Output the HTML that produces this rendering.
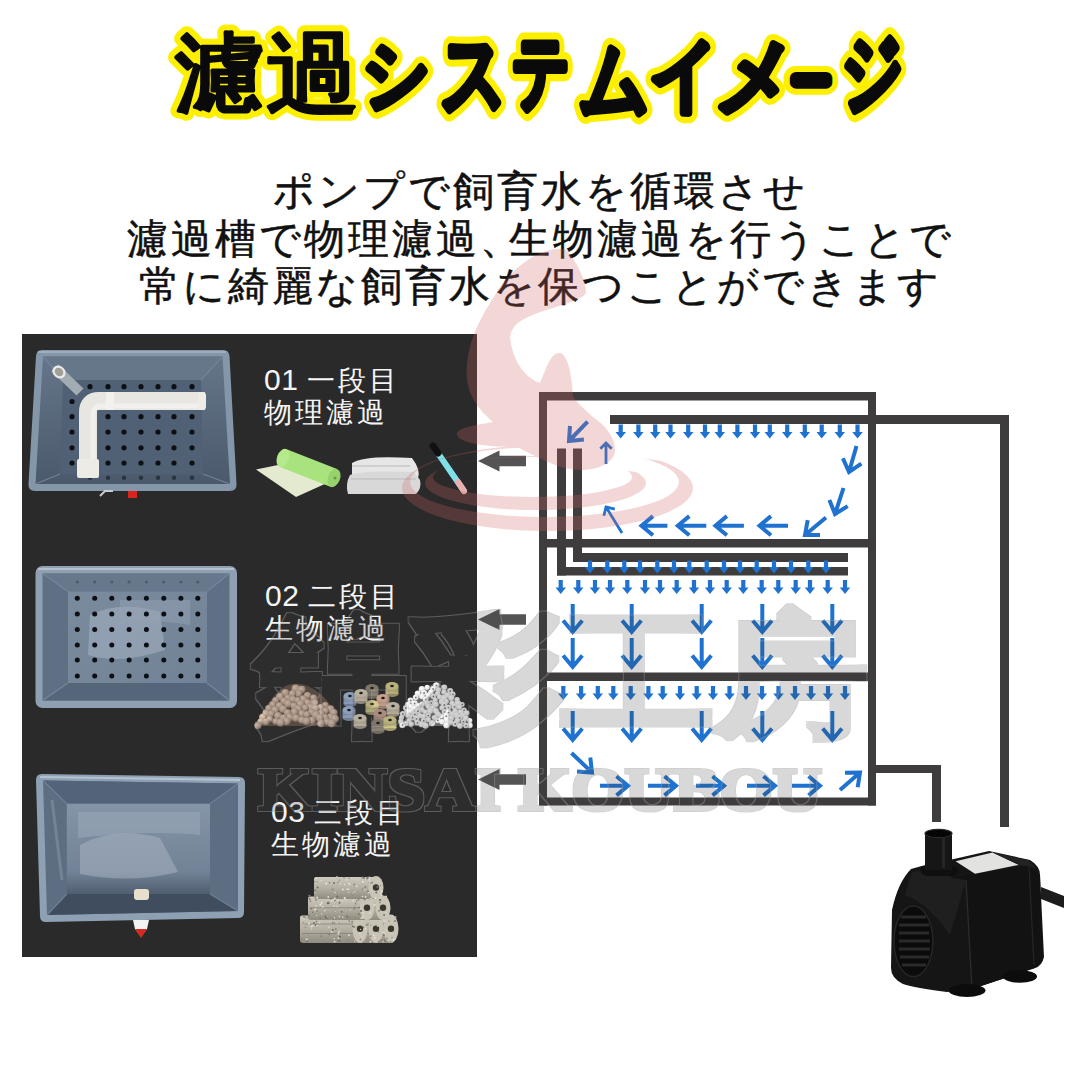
<!DOCTYPE html>
<html><head><meta charset="utf-8"><style>
html,body{margin:0;padding:0;background:#fff}
#root{position:relative;width:1080px;height:1080px;overflow:hidden;background:#fff;font-family:"Liberation Sans",sans-serif}
.ab{position:absolute;white-space:nowrap}
.title{left:0;width:1080px;text-align:center;top:22px;font-size:88px;line-height:100px;font-weight:900;letter-spacing:-15px;color:#0a0a0a}
.title.bg{color:#f8ef00;-webkit-text-stroke:14px #f8ef00}
.title.fg{-webkit-text-stroke:3px #0a0a0a}
.sub{left:0;width:1080px;text-align:center;font-size:41px;line-height:47.5px;letter-spacing:3px;color:#111;top:168px;-webkit-text-stroke:0.5px #111}
.panel{left:22px;top:334px;width:455px;height:623px;background:#2b2a2a}
.lab{color:#f4f4f4;font-size:28px;line-height:32px;letter-spacing:3px}
.lab .n{letter-spacing:0.5px;font-size:30px}
</style></head><body><div id="root">
<svg class="ab" style="left:0;top:0" width="1080" height="140" viewBox="0 0 1080 140"><g transform="translate(175.20,103.41) scale(0.9022,0.8587)"><text font-size="100" fill="#fcf000" stroke="#fcf000" stroke-width="18.17" stroke-linejoin="round" stroke-linecap="round">濾</text></g><g transform="translate(266.20,104.82) scale(0.9326,0.8977)"><text font-size="100" fill="#fcf000" stroke="#fcf000" stroke-width="17.48" stroke-linejoin="round" stroke-linecap="round">過</text></g><g transform="translate(362.14,100.79) scale(0.6687,0.7763)"><text font-size="100" fill="#fcf000" stroke="#fcf000" stroke-width="27.68" stroke-linejoin="round" stroke-linecap="round">シ</text></g><g transform="translate(440.22,105.36) scale(0.6603,0.9104)"><text font-size="100" fill="#fcf000" stroke="#fcf000" stroke-width="25.47" stroke-linejoin="round" stroke-linecap="round">ス</text></g><g transform="translate(512.00,99.69) scale(0.5714,0.8312)"><text font-size="100" fill="#fcf000" stroke="#fcf000" stroke-width="28.52" stroke-linejoin="round" stroke-linecap="round">テ</text></g><g transform="translate(578.81,108.54) scale(0.6977,0.8649)"><text font-size="100" fill="#fcf000" stroke="#fcf000" stroke-width="25.60" stroke-linejoin="round" stroke-linecap="round">ム</text></g><g transform="translate(648.71,102.23) scale(0.6986,0.8140)"><text font-size="100" fill="#fcf000" stroke="#fcf000" stroke-width="26.44" stroke-linejoin="round" stroke-linecap="round">イ</text></g><g transform="translate(713.83,105.60) scale(0.8169,0.8800)"><text font-size="100" fill="#fcf000" stroke="#fcf000" stroke-width="23.57" stroke-linejoin="round" stroke-linecap="round">メ</text></g><g transform="translate(793.28,93.90) scale(0.3580,0.3580)"><text font-size="100" fill="#fcf000" stroke="#fcf000" stroke-width="69.83" stroke-linejoin="round" stroke-linecap="round">ー</text></g><g transform="translate(841.26,102.11) scale(0.6125,0.8765)"><text font-size="100" fill="#fcf000" stroke="#fcf000" stroke-width="26.86" stroke-linejoin="round" stroke-linecap="round">ジ</text></g><g transform="translate(175.20,103.41) scale(0.9022,0.8587)"><text font-size="100" fill="#0a0a0a" stroke="#0a0a0a" stroke-width="4.54" stroke-linejoin="round" stroke-linecap="round">濾</text></g><g transform="translate(266.20,104.82) scale(0.9326,0.8977)"><text font-size="100" fill="#0a0a0a" stroke="#0a0a0a" stroke-width="4.37" stroke-linejoin="round" stroke-linecap="round">過</text></g><g transform="translate(362.14,100.79) scale(0.6687,0.7763)"><text font-size="100" fill="#0a0a0a" stroke="#0a0a0a" stroke-width="11.07" stroke-linejoin="round" stroke-linecap="round">シ</text></g><g transform="translate(440.22,105.36) scale(0.6603,0.9104)"><text font-size="100" fill="#0a0a0a" stroke="#0a0a0a" stroke-width="10.19" stroke-linejoin="round" stroke-linecap="round">ス</text></g><g transform="translate(512.00,99.69) scale(0.5714,0.8312)"><text font-size="100" fill="#0a0a0a" stroke="#0a0a0a" stroke-width="11.41" stroke-linejoin="round" stroke-linecap="round">テ</text></g><g transform="translate(578.81,108.54) scale(0.6977,0.8649)"><text font-size="100" fill="#0a0a0a" stroke="#0a0a0a" stroke-width="10.24" stroke-linejoin="round" stroke-linecap="round">ム</text></g><g transform="translate(648.71,102.23) scale(0.6986,0.8140)"><text font-size="100" fill="#0a0a0a" stroke="#0a0a0a" stroke-width="10.58" stroke-linejoin="round" stroke-linecap="round">イ</text></g><g transform="translate(713.83,105.60) scale(0.8169,0.8800)"><text font-size="100" fill="#0a0a0a" stroke="#0a0a0a" stroke-width="9.43" stroke-linejoin="round" stroke-linecap="round">メ</text></g><g transform="translate(793.28,93.90) scale(0.3580,0.3580)"><text font-size="100" fill="#0a0a0a" stroke="#0a0a0a" stroke-width="36.31" stroke-linejoin="round" stroke-linecap="round">ー</text></g><g transform="translate(841.26,102.11) scale(0.6125,0.8765)"><text font-size="100" fill="#0a0a0a" stroke="#0a0a0a" stroke-width="10.75" stroke-linejoin="round" stroke-linecap="round">ジ</text></g></svg>
<div class="ab sub">ポンプで飼育水を循環させ<br>濾過槽で物理濾過<span style="letter-spacing:-12px">、</span>生物濾過を行うことで<br>常に綺麗な飼育水を保つことができます</div>
<div class="ab panel"></div>
<svg class="ab" style="left:0;top:0" width="1080" height="1080" viewBox="0 0 1080 1080">

<defs>
<linearGradient id="t1w" x1="0" y1="0" x2="0" y2="1"><stop offset="0" stop-color="#66768a"/><stop offset="1" stop-color="#4a596c"/></linearGradient>
<linearGradient id="t3f" x1="0" y1="0" x2="0" y2="1"><stop offset="0" stop-color="#8595a8"/><stop offset="0.75" stop-color="#738397"/><stop offset="1" stop-color="#4f5e70"/></linearGradient>
<linearGradient id="t2f" x1="0" y1="0" x2="1" y2="1"><stop offset="0" stop-color="#7a8b9e"/><stop offset="1" stop-color="#728397"/></linearGradient>
</defs>
<path d="M42 350H223Q229 350 229.5 356L236.5 484Q237 491 230 491H35Q28 491 28.5 484L36 356Q36.5 350 42 350Z" fill="#8496aa"/>
<path d="M43 356.5H222.5L230 484H35.5Z" fill="url(#t1w)"/>
<path d="M43 356.5H222.5L201 380H63Z" fill="#67778a"/>
<path d="M63 380H201L203 474H60Z" fill="#516175"/>
<path d="M43 356.5L63 380M222.5 356.5L201 380M35.5 484L60 474M230 484L203 474" stroke="#72839a" stroke-width="1.2"/>
<path d="M38 352H226" stroke="#a9b6c4" stroke-width="1.5"/>
<circle cx="90.0" cy="386.7" r="2.6" fill="#0c0f14"/><circle cx="108.0" cy="386.7" r="2.6" fill="#0c0f14"/><circle cx="124.0" cy="386.7" r="2.6" fill="#0c0f14"/><circle cx="141.0" cy="386.7" r="2.6" fill="#0c0f14"/><circle cx="158.0" cy="386.7" r="2.6" fill="#0c0f14"/><circle cx="174.0" cy="386.7" r="2.6" fill="#0c0f14"/><circle cx="192.0" cy="386.7" r="2.6" fill="#0c0f14"/>
<circle cx="72.0" cy="401.5" r="2.6" fill="#0c0f14"/><circle cx="72.0" cy="416.7" r="2.6" fill="#0c0f14"/><circle cx="72.0" cy="432.0" r="2.6" fill="#0c0f14"/><circle cx="72.0" cy="447.8" r="2.6" fill="#0c0f14"/><circle cx="72.0" cy="463.0" r="2.6" fill="#0c0f14"/><circle cx="90.0" cy="401.5" r="2.6" fill="#0c0f14"/><circle cx="90.0" cy="416.7" r="2.6" fill="#0c0f14"/><circle cx="90.0" cy="432.0" r="2.6" fill="#0c0f14"/><circle cx="90.0" cy="447.8" r="2.6" fill="#0c0f14"/><circle cx="90.0" cy="463.0" r="2.6" fill="#0c0f14"/><circle cx="108.0" cy="401.5" r="2.6" fill="#0c0f14"/><circle cx="108.0" cy="416.7" r="2.6" fill="#0c0f14"/><circle cx="108.0" cy="432.0" r="2.6" fill="#0c0f14"/><circle cx="108.0" cy="447.8" r="2.6" fill="#0c0f14"/><circle cx="108.0" cy="463.0" r="2.6" fill="#0c0f14"/><circle cx="124.0" cy="401.5" r="2.6" fill="#0c0f14"/><circle cx="124.0" cy="416.7" r="2.6" fill="#0c0f14"/><circle cx="124.0" cy="432.0" r="2.6" fill="#0c0f14"/><circle cx="124.0" cy="447.8" r="2.6" fill="#0c0f14"/><circle cx="124.0" cy="463.0" r="2.6" fill="#0c0f14"/><circle cx="141.0" cy="401.5" r="2.6" fill="#0c0f14"/><circle cx="141.0" cy="416.7" r="2.6" fill="#0c0f14"/><circle cx="141.0" cy="432.0" r="2.6" fill="#0c0f14"/><circle cx="141.0" cy="447.8" r="2.6" fill="#0c0f14"/><circle cx="141.0" cy="463.0" r="2.6" fill="#0c0f14"/><circle cx="158.0" cy="401.5" r="2.6" fill="#0c0f14"/><circle cx="158.0" cy="416.7" r="2.6" fill="#0c0f14"/><circle cx="158.0" cy="432.0" r="2.6" fill="#0c0f14"/><circle cx="158.0" cy="447.8" r="2.6" fill="#0c0f14"/><circle cx="158.0" cy="463.0" r="2.6" fill="#0c0f14"/><circle cx="174.0" cy="401.5" r="2.6" fill="#0c0f14"/><circle cx="174.0" cy="416.7" r="2.6" fill="#0c0f14"/><circle cx="174.0" cy="432.0" r="2.6" fill="#0c0f14"/><circle cx="174.0" cy="447.8" r="2.6" fill="#0c0f14"/><circle cx="174.0" cy="463.0" r="2.6" fill="#0c0f14"/><circle cx="192.0" cy="401.5" r="2.6" fill="#0c0f14"/><circle cx="192.0" cy="416.7" r="2.6" fill="#0c0f14"/><circle cx="192.0" cy="432.0" r="2.6" fill="#0c0f14"/><circle cx="192.0" cy="447.8" r="2.6" fill="#0c0f14"/><circle cx="192.0" cy="463.0" r="2.6" fill="#0c0f14"/>
<circle cx="90.0" cy="477.8" r="2.2" fill="#2a3440"/><circle cx="108.0" cy="477.8" r="2.2" fill="#2a3440"/><circle cx="124.0" cy="477.8" r="2.2" fill="#2a3440"/><circle cx="141.0" cy="477.8" r="2.2" fill="#2a3440"/><circle cx="158.0" cy="477.8" r="2.2" fill="#2a3440"/><circle cx="174.0" cy="477.8" r="2.2" fill="#2a3440"/><circle cx="192.0" cy="477.8" r="2.2" fill="#2a3440"/>
<path d="M55 368L80 392" stroke="#a3abb3" stroke-width="10" stroke-linecap="butt"/>
<ellipse cx="59" cy="372" rx="7" ry="6" transform="rotate(40 59 372)" fill="#e9ebec"/><ellipse cx="59" cy="372" rx="4.6" ry="3.8" transform="rotate(40 59 372)" fill="#a39e96"/>
<path d="M88 476V412Q88 401 99 401H205" stroke="#e8e6e1" stroke-width="18" fill="none"/>
<path d="M93 476V414Q93 406 101 406H205" stroke="#f4f3ef" stroke-width="5" fill="none" opacity="0.8"/>
<rect x="77" y="459" width="22" height="19" rx="2" fill="#ecebe6"/>
<rect x="106" y="392" width="8" height="18" rx="1.5" fill="#f3f1ec"/>
<rect x="198" y="392" width="8" height="18" rx="3.5" fill="#eeece7"/>
<rect x="128" y="491" width="9" height="7" fill="#d8261f"/>
<path d="M100 496l5 -5h8" stroke="#c9cdd1" stroke-width="2" fill="none"/>

<rect x="35.5" y="566" width="201.5" height="142" rx="7" fill="#8fa0b3"/>
<path d="M38 569H234" stroke="#b3c0cd" stroke-width="2"/>
<path d="M42.5 573.5H229.5V700.5H42.5Z" fill="#607084"/>
<path d="M42.5 573.5H229.5L207 591.5H68Z" fill="#68788c"/>
<path d="M68 683H207L229.5 700.5H42.5Z" fill="#56667a"/>
<path d="M68 591.5H207V683H68Z" fill="url(#t2f)"/>
<path d="M42.5 573.5L68 591.5M229.5 573.5L207 591.5M42.5 700.5L68 683M229.5 700.5L207 683" stroke="#75869a" stroke-width="1.2"/>
<path d="M90 615Q120 600 160 612L165 650Q120 665 88 655Z" fill="#a5b3c2" opacity="0.55"/>
<path d="M120 600H190V625Q150 618 120 625Z" fill="#93a2b3" opacity="0.5"/>
<circle cx="77.3" cy="598.3" r="2.5" fill="#0c0f14"/><circle cx="77.3" cy="613.9" r="2.5" fill="#0c0f14"/><circle cx="77.3" cy="629.4" r="2.5" fill="#0c0f14"/><circle cx="77.3" cy="645.0" r="2.5" fill="#0c0f14"/><circle cx="77.3" cy="660.1" r="2.5" fill="#0c0f14"/><circle cx="77.3" cy="676.1" r="2.5" fill="#0c0f14"/><circle cx="94.7" cy="598.3" r="2.5" fill="#0c0f14"/><circle cx="94.7" cy="613.9" r="2.5" fill="#0c0f14"/><circle cx="94.7" cy="629.4" r="2.5" fill="#0c0f14"/><circle cx="94.7" cy="645.0" r="2.5" fill="#0c0f14"/><circle cx="94.7" cy="660.1" r="2.5" fill="#0c0f14"/><circle cx="94.7" cy="676.1" r="2.5" fill="#0c0f14"/><circle cx="111.8" cy="598.3" r="2.5" fill="#0c0f14"/><circle cx="111.8" cy="613.9" r="2.5" fill="#0c0f14"/><circle cx="111.8" cy="629.4" r="2.5" fill="#0c0f14"/><circle cx="111.8" cy="645.0" r="2.5" fill="#0c0f14"/><circle cx="111.8" cy="660.1" r="2.5" fill="#0c0f14"/><circle cx="111.8" cy="676.1" r="2.5" fill="#0c0f14"/><circle cx="129.1" cy="598.3" r="2.5" fill="#0c0f14"/><circle cx="129.1" cy="613.9" r="2.5" fill="#0c0f14"/><circle cx="129.1" cy="629.4" r="2.5" fill="#0c0f14"/><circle cx="129.1" cy="645.0" r="2.5" fill="#0c0f14"/><circle cx="129.1" cy="660.1" r="2.5" fill="#0c0f14"/><circle cx="129.1" cy="676.1" r="2.5" fill="#0c0f14"/><circle cx="146.4" cy="598.3" r="2.5" fill="#0c0f14"/><circle cx="146.4" cy="613.9" r="2.5" fill="#0c0f14"/><circle cx="146.4" cy="629.4" r="2.5" fill="#0c0f14"/><circle cx="146.4" cy="645.0" r="2.5" fill="#0c0f14"/><circle cx="146.4" cy="660.1" r="2.5" fill="#0c0f14"/><circle cx="146.4" cy="676.1" r="2.5" fill="#0c0f14"/><circle cx="163.8" cy="598.3" r="2.5" fill="#0c0f14"/><circle cx="163.8" cy="613.9" r="2.5" fill="#0c0f14"/><circle cx="163.8" cy="629.4" r="2.5" fill="#0c0f14"/><circle cx="163.8" cy="645.0" r="2.5" fill="#0c0f14"/><circle cx="163.8" cy="660.1" r="2.5" fill="#0c0f14"/><circle cx="163.8" cy="676.1" r="2.5" fill="#0c0f14"/><circle cx="180.9" cy="598.3" r="2.5" fill="#0c0f14"/><circle cx="180.9" cy="613.9" r="2.5" fill="#0c0f14"/><circle cx="180.9" cy="629.4" r="2.5" fill="#0c0f14"/><circle cx="180.9" cy="645.0" r="2.5" fill="#0c0f14"/><circle cx="180.9" cy="660.1" r="2.5" fill="#0c0f14"/><circle cx="180.9" cy="676.1" r="2.5" fill="#0c0f14"/><circle cx="197.8" cy="598.3" r="2.5" fill="#0c0f14"/><circle cx="197.8" cy="613.9" r="2.5" fill="#0c0f14"/><circle cx="197.8" cy="629.4" r="2.5" fill="#0c0f14"/><circle cx="197.8" cy="645.0" r="2.5" fill="#0c0f14"/><circle cx="197.8" cy="660.1" r="2.5" fill="#0c0f14"/><circle cx="197.8" cy="676.1" r="2.5" fill="#0c0f14"/>
<circle cx="77.3" cy="582.0" r="1.6" fill="#4d5b6b"/><circle cx="94.7" cy="582.0" r="1.6" fill="#4d5b6b"/><circle cx="111.8" cy="582.0" r="1.6" fill="#4d5b6b"/><circle cx="129.1" cy="582.0" r="1.6" fill="#4d5b6b"/><circle cx="146.4" cy="582.0" r="1.6" fill="#4d5b6b"/><circle cx="163.8" cy="582.0" r="1.6" fill="#4d5b6b"/><circle cx="180.9" cy="582.0" r="1.6" fill="#4d5b6b"/><circle cx="197.8" cy="582.0" r="1.6" fill="#4d5b6b"/>

<path d="M42 774L239 777Q245 777 245 783L244 912Q244 918 238 918L46 922Q40 922 40 916L36 780Q36 774 42 774Z" fill="#8ea0b4"/>
<path d="M40 777L240 780" stroke="#b5c2cf" stroke-width="2"/>
<path d="M43 780.5L238 783.5L238 911L47 915Z" fill="#5d6d82"/>
<path d="M43 780.5L238 783.5L210 803.7H66.8Z" fill="#53637a"/>
<path d="M66.8 803.7H210V894H66.8Z" fill="url(#t3f)"/>
<path d="M66.8 894H210L238 911L47 915Z" fill="#3f4d5e"/>
<path d="M43 780.5L66.8 803.7M238 783.5L210 803.7M47 915L66.8 894M238 911L210 894" stroke="#6f8095" stroke-width="1.2"/>
<path d="M78 812H200V835Q150 830 78 838Z" fill="#97a6b7" opacity="0.6"/>
<path d="M80 845Q115 826 160 838L178 872Q130 884 80 874Z" fill="#a9b6c4" opacity="0.5"/>
<path d="M52 800L62 880" stroke="#8c9bad" stroke-width="3" opacity="0.5"/>
<rect x="134" y="889" width="15" height="11" rx="3" fill="#e6e0cc"/>
<path d="M133 920H149L147 929L141 937L135 929Z" fill="#f3f3f3"/>
<path d="M135 929L141 938L147 929Z" fill="#d42a22"/>

<path d="M256 469.5L278 465L327 483L296 497Z" fill="#e4ead0"/>
<path d="M286 449L337 469L331 487L280 467Z" fill="#a8e37e"/><ellipse cx="283" cy="458" rx="6" ry="9.5" transform="rotate(21 283 458)" fill="#b4ea8c"/>
<ellipse cx="334" cy="478" rx="6" ry="9.5" transform="rotate(21 334 478)" fill="#96d26c"/><circle cx="335" cy="478" r="1.5" fill="#6a9a50"/>
<path d="M352 463Q365 455 412 458Q421 470 418 478L352 478Z" fill="#e6e6e6"/>
<path d="M350 475Q360 470 414 472L420 480Q422 488 416 494H348Q345 484 350 475Z" fill="#d8d8d8"/>
<path d="M352 466H410M351 479H416" stroke="#b9b9b9" stroke-width="1"/>
<path d="M433 446L464 491" stroke="#7fe0e8" stroke-width="6" stroke-linecap="round"/>
<path d="M433 446L438 453" stroke="#111" stroke-width="7" stroke-linecap="round"/>
<path d="M458 482L464 491" stroke="#e8b0b0" stroke-width="6" stroke-linecap="round"/>
<defs><radialGradient id="ball" cx="0.38" cy="0.35" r="0.7"><stop offset="0" stop-color="#e3cdbd"/><stop offset="0.6" stop-color="#c0a490"/><stop offset="1" stop-color="#6d5a4e"/></radialGradient><radialGradient id="wring" cx="0.4" cy="0.35" r="0.7"><stop offset="0" stop-color="#ffffff"/><stop offset="0.7" stop-color="#e4e4e4"/><stop offset="1" stop-color="#8a8a8a"/></radialGradient></defs><path d="M258 726Q266 700 285 686Q300 680 315 690Q334 702 337 726Z" fill="#5e4f46"/><circle cx="295.7" cy="688.7" r="4.1" fill="url(#ball)"/><circle cx="301.7" cy="689.8" r="4.0" fill="url(#ball)"/><circle cx="285.4" cy="692.8" r="3.9" fill="url(#ball)"/><circle cx="298.7" cy="693.8" r="3.7" fill="url(#ball)"/><circle cx="292.6" cy="693.8" r="3.7" fill="url(#ball)"/><circle cx="307.5" cy="695.6" r="3.7" fill="url(#ball)"/><circle cx="280.0" cy="697.0" r="4.0" fill="url(#ball)"/><circle cx="313.6" cy="697.9" r="3.5" fill="url(#ball)"/><circle cx="287.9" cy="698.0" r="3.6" fill="url(#ball)"/><circle cx="303.4" cy="699.3" r="4.0" fill="url(#ball)"/><circle cx="292.9" cy="699.4" r="3.6" fill="url(#ball)"/><circle cx="275.7" cy="700.4" r="3.5" fill="url(#ball)"/><circle cx="297.7" cy="700.5" r="3.4" fill="url(#ball)"/><circle cx="284.1" cy="701.2" r="3.8" fill="url(#ball)"/><circle cx="307.7" cy="702.7" r="3.7" fill="url(#ball)"/><circle cx="314.2" cy="703.1" r="4.2" fill="url(#ball)"/><circle cx="288.2" cy="703.8" r="4.1" fill="url(#ball)"/><circle cx="300.7" cy="704.3" r="4.2" fill="url(#ball)"/><circle cx="272.8" cy="704.7" r="3.6" fill="url(#ball)"/><circle cx="325.2" cy="705.5" r="3.5" fill="url(#ball)"/><circle cx="293.9" cy="705.8" r="3.5" fill="url(#ball)"/><circle cx="279.5" cy="705.8" r="3.8" fill="url(#ball)"/><circle cx="310.4" cy="707.5" r="4.0" fill="url(#ball)"/><circle cx="321.1" cy="707.9" r="3.8" fill="url(#ball)"/><circle cx="305.2" cy="708.0" r="3.6" fill="url(#ball)"/><circle cx="268.9" cy="708.5" r="3.7" fill="url(#ball)"/><circle cx="330.6" cy="709.1" r="3.9" fill="url(#ball)"/><circle cx="315.7" cy="709.2" r="3.9" fill="url(#ball)"/><circle cx="283.1" cy="709.2" r="4.0" fill="url(#ball)"/><circle cx="298.4" cy="709.2" r="4.1" fill="url(#ball)"/><circle cx="275.2" cy="710.1" r="3.9" fill="url(#ball)"/><circle cx="325.4" cy="711.1" r="3.5" fill="url(#ball)"/><circle cx="294.5" cy="712.1" r="4.1" fill="url(#ball)"/><circle cx="311.5" cy="712.6" r="3.6" fill="url(#ball)"/><circle cx="333.8" cy="712.8" r="3.9" fill="url(#ball)"/><circle cx="287.7" cy="712.9" r="3.7" fill="url(#ball)"/><circle cx="266.4" cy="713.2" r="4.0" fill="url(#ball)"/><circle cx="321.2" cy="713.4" r="3.6" fill="url(#ball)"/><circle cx="301.9" cy="713.7" r="3.6" fill="url(#ball)"/><circle cx="271.3" cy="713.8" r="3.6" fill="url(#ball)"/><circle cx="307.0" cy="714.6" r="3.5" fill="url(#ball)"/><circle cx="316.0" cy="715.1" r="4.1" fill="url(#ball)"/><circle cx="278.0" cy="715.8" r="3.9" fill="url(#ball)"/><circle cx="330.4" cy="717.0" r="3.7" fill="url(#ball)"/><circle cx="262.8" cy="717.3" r="3.7" fill="url(#ball)"/><circle cx="289.6" cy="717.6" r="4.2" fill="url(#ball)"/><circle cx="325.0" cy="717.7" r="3.8" fill="url(#ball)"/><circle cx="283.6" cy="717.8" r="3.6" fill="url(#ball)"/><circle cx="319.8" cy="718.1" r="4.0" fill="url(#ball)"/><circle cx="296.1" cy="718.1" r="3.9" fill="url(#ball)"/><circle cx="334.9" cy="718.9" r="4.2" fill="url(#ball)"/><circle cx="269.9" cy="719.0" r="3.5" fill="url(#ball)"/><circle cx="301.9" cy="720.1" r="3.8" fill="url(#ball)"/><circle cx="311.8" cy="720.6" r="4.1" fill="url(#ball)"/><circle cx="306.6" cy="721.3" r="4.1" fill="url(#ball)"/><circle cx="286.7" cy="721.4" r="4.1" fill="url(#ball)"/><circle cx="275.8" cy="721.5" r="3.4" fill="url(#ball)"/><circle cx="260.9" cy="721.8" r="3.6" fill="url(#ball)"/><circle cx="327.2" cy="721.9" r="3.5" fill="url(#ball)"/><circle cx="266.1" cy="722.0" r="3.6" fill="url(#ball)"/><circle cx="280.7" cy="722.6" r="4.2" fill="url(#ball)"/><circle cx="321.1" cy="723.3" r="3.9" fill="url(#ball)"/><circle cx="331.7" cy="723.3" r="4.1" fill="url(#ball)"/><circle cx="258.0" cy="725.6" r="3.7" fill="url(#ball)"/><rect x="365.5" y="688" width="13" height="8" fill="#8f8577" opacity="0.85"/><ellipse cx="372" cy="696" rx="6.5" ry="3" fill="#8f8577" opacity="0.7"/><ellipse cx="372" cy="688" rx="6.5" ry="4" fill="#8f8577"/><ellipse cx="372" cy="688" rx="1.8" ry="1.3" fill="#1e1a18"/><rect x="385.5" y="686" width="13" height="8" fill="#d9d08e" opacity="0.85"/><ellipse cx="392" cy="694" rx="6.5" ry="3" fill="#d9d08e" opacity="0.7"/><ellipse cx="392" cy="686" rx="6.5" ry="4" fill="#d9d08e"/><ellipse cx="392" cy="686" rx="1.8" ry="1.3" fill="#1e1a18"/><rect x="343.5" y="696" width="13" height="8" fill="#8d9fbd" opacity="0.85"/><ellipse cx="350" cy="704" rx="6.5" ry="3" fill="#8d9fbd" opacity="0.7"/><ellipse cx="350" cy="696" rx="6.5" ry="4" fill="#8d9fbd"/><ellipse cx="350" cy="696" rx="1.8" ry="1.3" fill="#1e1a18"/><rect x="354.5" y="693" width="13" height="8" fill="#d8cdb7" opacity="0.85"/><ellipse cx="361" cy="701" rx="6.5" ry="3" fill="#d8cdb7" opacity="0.7"/><ellipse cx="361" cy="693" rx="6.5" ry="4" fill="#d8cdb7"/><ellipse cx="361" cy="693" rx="1.8" ry="1.3" fill="#1e1a18"/><rect x="376.5" y="698" width="13" height="8" fill="#c99f8d" opacity="0.85"/><ellipse cx="383" cy="706" rx="6.5" ry="3" fill="#c99f8d" opacity="0.7"/><ellipse cx="383" cy="698" rx="6.5" ry="4" fill="#c99f8d"/><ellipse cx="383" cy="698" rx="1.8" ry="1.3" fill="#1e1a18"/><rect x="365.5" y="704" width="13" height="8" fill="#d3c98a" opacity="0.85"/><ellipse cx="372" cy="712" rx="6.5" ry="3" fill="#d3c98a" opacity="0.7"/><ellipse cx="372" cy="704" rx="6.5" ry="4" fill="#d3c98a"/><ellipse cx="372" cy="704" rx="1.8" ry="1.3" fill="#1e1a18"/><rect x="386.5" y="706" width="13" height="8" fill="#d8cdb7" opacity="0.85"/><ellipse cx="393" cy="714" rx="6.5" ry="3" fill="#d8cdb7" opacity="0.7"/><ellipse cx="393" cy="706" rx="6.5" ry="4" fill="#d8cdb7"/><ellipse cx="393" cy="706" rx="1.8" ry="1.3" fill="#1e1a18"/><rect x="342.5" y="710" width="13" height="8" fill="#8d9fbd" opacity="0.85"/><ellipse cx="349" cy="718" rx="6.5" ry="3" fill="#8d9fbd" opacity="0.7"/><ellipse cx="349" cy="710" rx="6.5" ry="4" fill="#8d9fbd"/><ellipse cx="349" cy="710" rx="1.8" ry="1.3" fill="#1e1a18"/><rect x="373.5" y="713" width="13" height="8" fill="#c6a090" opacity="0.85"/><ellipse cx="380" cy="721" rx="6.5" ry="3" fill="#c6a090" opacity="0.7"/><ellipse cx="380" cy="713" rx="6.5" ry="4" fill="#c6a090"/><ellipse cx="380" cy="713" rx="1.8" ry="1.3" fill="#1e1a18"/><rect x="353.5" y="718" width="13" height="8" fill="#d8cdb7" opacity="0.85"/><ellipse cx="360" cy="726" rx="6.5" ry="3" fill="#d8cdb7" opacity="0.7"/><ellipse cx="360" cy="718" rx="6.5" ry="4" fill="#d8cdb7"/><ellipse cx="360" cy="718" rx="1.8" ry="1.3" fill="#1e1a18"/><rect x="371.5" y="723" width="13" height="8" fill="#8f8577" opacity="0.85"/><ellipse cx="378" cy="731" rx="6.5" ry="3" fill="#8f8577" opacity="0.7"/><ellipse cx="378" cy="723" rx="6.5" ry="4" fill="#8f8577"/><ellipse cx="378" cy="723" rx="1.8" ry="1.3" fill="#1e1a18"/><rect x="383.5" y="720" width="13" height="8" fill="#d9d08e" opacity="0.85"/><ellipse cx="390" cy="728" rx="6.5" ry="3" fill="#d9d08e" opacity="0.7"/><ellipse cx="390" cy="720" rx="6.5" ry="4" fill="#d9d08e"/><ellipse cx="390" cy="720" rx="1.8" ry="1.3" fill="#1e1a18"/><path d="M402 726Q415 692 435 683Q455 684 470 726Z" fill="#6a6a6a"/><circle cx="436.4" cy="685.4" r="3.2" fill="url(#wring)"/><circle cx="444.3" cy="687.4" r="3.0" fill="url(#wring)"/><circle cx="427.2" cy="687.5" r="2.7" fill="url(#wring)"/><circle cx="433.1" cy="689.0" r="2.9" fill="url(#wring)"/><circle cx="421.9" cy="689.1" r="3.2" fill="url(#wring)"/><circle cx="438.4" cy="690.0" r="2.8" fill="url(#wring)"/><circle cx="450.2" cy="691.0" r="3.0" fill="url(#wring)"/><circle cx="431.0" cy="692.2" r="2.7" fill="url(#wring)"/><circle cx="444.0" cy="692.2" r="2.7" fill="url(#wring)"/><circle cx="424.1" cy="693.0" r="3.1" fill="url(#wring)"/><circle cx="417.8" cy="693.5" r="3.1" fill="url(#wring)"/><circle cx="437.7" cy="693.6" r="2.7" fill="url(#wring)"/><circle cx="453.0" cy="694.3" r="2.7" fill="url(#wring)"/><circle cx="428.4" cy="695.2" r="2.7" fill="url(#wring)"/><circle cx="447.5" cy="695.5" r="3.0" fill="url(#wring)"/><circle cx="433.4" cy="696.4" r="2.9" fill="url(#wring)"/><circle cx="421.9" cy="696.6" r="2.8" fill="url(#wring)"/><circle cx="439.7" cy="697.0" r="2.7" fill="url(#wring)"/><circle cx="415.8" cy="697.5" r="3.0" fill="url(#wring)"/><circle cx="451.3" cy="698.0" r="3.1" fill="url(#wring)"/><circle cx="444.2" cy="698.0" r="3.2" fill="url(#wring)"/><circle cx="425.8" cy="699.3" r="3.0" fill="url(#wring)"/><circle cx="457.2" cy="699.7" r="2.7" fill="url(#wring)"/><circle cx="435.3" cy="700.2" r="2.6" fill="url(#wring)"/><circle cx="410.6" cy="700.5" r="3.1" fill="url(#wring)"/><circle cx="446.1" cy="701.6" r="2.9" fill="url(#wring)"/><circle cx="441.9" cy="701.7" r="3.1" fill="url(#wring)"/><circle cx="431.3" cy="702.9" r="2.6" fill="url(#wring)"/><circle cx="426.2" cy="703.0" r="3.2" fill="url(#wring)"/><circle cx="452.2" cy="703.3" r="2.8" fill="url(#wring)"/><circle cx="414.6" cy="703.5" r="3.2" fill="url(#wring)"/><circle cx="458.0" cy="703.5" r="3.2" fill="url(#wring)"/><circle cx="422.3" cy="704.5" r="2.9" fill="url(#wring)"/><circle cx="462.2" cy="704.5" r="2.6" fill="url(#wring)"/><circle cx="435.7" cy="704.6" r="3.2" fill="url(#wring)"/><circle cx="407.8" cy="704.7" r="2.9" fill="url(#wring)"/><circle cx="444.3" cy="704.9" r="3.2" fill="url(#wring)"/><circle cx="418.6" cy="705.7" r="2.8" fill="url(#wring)"/><circle cx="428.2" cy="706.6" r="2.7" fill="url(#wring)"/><circle cx="454.5" cy="706.7" r="3.2" fill="url(#wring)"/><circle cx="410.9" cy="706.9" r="2.9" fill="url(#wring)"/><circle cx="459.5" cy="707.2" r="2.7" fill="url(#wring)"/><circle cx="448.5" cy="707.7" r="2.9" fill="url(#wring)"/><circle cx="432.8" cy="707.9" r="3.0" fill="url(#wring)"/><circle cx="442.0" cy="707.9" r="2.6" fill="url(#wring)"/><circle cx="405.9" cy="708.0" r="3.0" fill="url(#wring)"/><circle cx="414.8" cy="708.6" r="2.9" fill="url(#wring)"/><circle cx="421.9" cy="710.0" r="3.0" fill="url(#wring)"/><circle cx="464.1" cy="710.1" r="2.7" fill="url(#wring)"/><circle cx="435.9" cy="711.0" r="3.1" fill="url(#wring)"/><circle cx="430.0" cy="711.2" r="3.2" fill="url(#wring)"/><circle cx="418.0" cy="711.2" r="3.2" fill="url(#wring)"/><circle cx="455.2" cy="711.3" r="2.8" fill="url(#wring)"/><circle cx="407.4" cy="711.5" r="3.1" fill="url(#wring)"/><circle cx="444.6" cy="711.8" r="2.9" fill="url(#wring)"/><circle cx="411.7" cy="712.1" r="3.1" fill="url(#wring)"/><circle cx="425.4" cy="712.1" r="2.6" fill="url(#wring)"/><circle cx="448.5" cy="712.6" r="3.2" fill="url(#wring)"/><circle cx="460.6" cy="712.7" r="3.3" fill="url(#wring)"/><circle cx="466.6" cy="713.1" r="2.9" fill="url(#wring)"/><circle cx="402.8" cy="714.0" r="3.0" fill="url(#wring)"/><circle cx="452.7" cy="714.2" r="3.0" fill="url(#wring)"/><circle cx="437.9" cy="714.3" r="3.0" fill="url(#wring)"/><circle cx="414.8" cy="714.4" r="2.6" fill="url(#wring)"/><circle cx="456.7" cy="715.3" r="3.3" fill="url(#wring)"/><circle cx="408.1" cy="715.5" r="2.8" fill="url(#wring)"/><circle cx="428.3" cy="715.6" r="2.7" fill="url(#wring)"/><circle cx="463.1" cy="715.7" r="2.7" fill="url(#wring)"/><circle cx="419.8" cy="715.9" r="2.8" fill="url(#wring)"/><circle cx="446.3" cy="716.2" r="3.2" fill="url(#wring)"/><circle cx="441.4" cy="716.2" r="2.6" fill="url(#wring)"/><circle cx="423.5" cy="716.5" r="2.7" fill="url(#wring)"/><circle cx="412.6" cy="717.5" r="3.1" fill="url(#wring)"/><circle cx="434.4" cy="717.6" r="2.7" fill="url(#wring)"/><circle cx="401.5" cy="717.7" r="2.6" fill="url(#wring)"/><circle cx="459.7" cy="717.8" r="3.0" fill="url(#wring)"/><circle cx="465.8" cy="718.3" r="3.0" fill="url(#wring)"/><circle cx="451.3" cy="718.3" r="3.0" fill="url(#wring)"/><circle cx="416.4" cy="718.8" r="3.1" fill="url(#wring)"/><circle cx="428.3" cy="719.8" r="2.7" fill="url(#wring)"/><circle cx="446.6" cy="719.9" r="3.2" fill="url(#wring)"/><circle cx="437.8" cy="720.3" r="3.1" fill="url(#wring)"/><circle cx="469.8" cy="720.7" r="2.6" fill="url(#wring)"/><circle cx="409.1" cy="720.7" r="2.7" fill="url(#wring)"/><circle cx="423.7" cy="720.7" r="2.9" fill="url(#wring)"/><circle cx="457.3" cy="720.8" r="3.0" fill="url(#wring)"/><circle cx="400.9" cy="721.5" r="2.8" fill="url(#wring)"/><circle cx="463.4" cy="721.6" r="2.7" fill="url(#wring)"/><circle cx="442.1" cy="721.8" r="2.9" fill="url(#wring)"/><circle cx="450.7" cy="722.4" r="2.7" fill="url(#wring)"/><circle cx="417.4" cy="722.8" r="3.0" fill="url(#wring)"/><circle cx="432.2" cy="723.2" r="3.2" fill="url(#wring)"/><circle cx="406.2" cy="723.5" r="2.7" fill="url(#wring)"/><circle cx="455.2" cy="723.9" r="3.0" fill="url(#wring)"/><circle cx="421.5" cy="724.3" r="3.1" fill="url(#wring)"/><circle cx="411.3" cy="724.3" r="2.7" fill="url(#wring)"/><circle cx="402.5" cy="725.0" r="3.2" fill="url(#wring)"/><circle cx="446.6" cy="725.2" r="3.3" fill="url(#wring)"/><circle cx="469.9" cy="725.4" r="2.9" fill="url(#wring)"/><circle cx="466.0" cy="725.6" r="2.9" fill="url(#wring)"/><circle cx="425.5" cy="725.6" r="3.2" fill="url(#wring)"/><circle cx="460.0" cy="725.9" r="3.0" fill="url(#wring)"/><circle cx="436.4" cy="685.4" r="0.9" fill="#777"/><circle cx="433.1" cy="689.0" r="0.9" fill="#777"/><circle cx="450.2" cy="691.0" r="0.9" fill="#777"/><circle cx="424.1" cy="693.0" r="0.9" fill="#777"/><circle cx="453.0" cy="694.3" r="0.9" fill="#777"/><circle cx="433.4" cy="696.4" r="0.9" fill="#777"/><circle cx="415.8" cy="697.5" r="0.9" fill="#777"/><circle cx="425.8" cy="699.3" r="0.9" fill="#777"/><circle cx="410.6" cy="700.5" r="0.9" fill="#777"/><circle cx="431.3" cy="702.9" r="0.9" fill="#777"/><circle cx="414.6" cy="703.5" r="0.9" fill="#777"/><circle cx="462.2" cy="704.5" r="0.9" fill="#777"/><circle cx="444.3" cy="704.9" r="0.9" fill="#777"/><circle cx="454.5" cy="706.7" r="0.9" fill="#777"/><circle cx="448.5" cy="707.7" r="0.9" fill="#777"/><circle cx="405.9" cy="708.0" r="0.9" fill="#777"/><circle cx="464.1" cy="710.1" r="0.9" fill="#777"/><circle cx="418.0" cy="711.2" r="0.9" fill="#777"/><circle cx="444.6" cy="711.8" r="0.9" fill="#777"/><circle cx="448.5" cy="712.6" r="0.9" fill="#777"/><circle cx="402.8" cy="714.0" r="0.9" fill="#777"/><circle cx="414.8" cy="714.4" r="0.9" fill="#777"/><circle cx="428.3" cy="715.6" r="0.9" fill="#777"/><circle cx="446.3" cy="716.2" r="0.9" fill="#777"/><circle cx="412.6" cy="717.5" r="0.9" fill="#777"/><circle cx="459.7" cy="717.8" r="0.9" fill="#777"/><circle cx="416.4" cy="718.8" r="0.9" fill="#777"/><circle cx="437.8" cy="720.3" r="0.9" fill="#777"/><circle cx="423.7" cy="720.7" r="0.9" fill="#777"/><circle cx="463.4" cy="721.6" r="0.9" fill="#777"/><circle cx="417.4" cy="722.8" r="0.9" fill="#777"/><circle cx="455.2" cy="723.9" r="0.9" fill="#777"/><circle cx="402.5" cy="725.0" r="0.9" fill="#777"/><circle cx="466.0" cy="725.6" r="0.9" fill="#777"/><defs><linearGradient id="brk" x1="0" y1="0" x2="0" y2="1"><stop offset="0" stop-color="#cfcabd"/><stop offset="0.5" stop-color="#b5b0a3"/><stop offset="1" stop-color="#8f8b7f"/></linearGradient></defs><path d="M302 915.5H391V943H303Q300 943 300 940V917.5Q300 915.5 302 915.5Z" fill="url(#brk)"/><path d="M302 924.0H387" stroke="#77736a" stroke-width="1" opacity="0.6"/><path d="M302 933.5H387" stroke="#77736a" stroke-width="1" opacity="0.6"/><ellipse cx="360" cy="928.8" rx="7.5" ry="14.2" fill="#c9c4b6"/><circle cx="360" cy="928.8" r="3.2" fill="#3b372f"/><ellipse cx="376" cy="928.8" rx="7.5" ry="14.2" fill="#c9c4b6"/><circle cx="376" cy="928.8" r="3.2" fill="#3b372f"/><ellipse cx="391" cy="928.8" rx="7.5" ry="14.2" fill="#c9c4b6"/><circle cx="391" cy="928.8" r="3.2" fill="#3b372f"/><path d="M310 896.5H383V920H311Q308 920 308 917V898.5Q308 896.5 310 896.5Z" fill="url(#brk)"/><path d="M310 907.8H379" stroke="#77736a" stroke-width="1" opacity="0.6"/><ellipse cx="367" cy="907.8" rx="7.5" ry="12.2" fill="#c9c4b6"/><circle cx="367" cy="907.8" r="3.2" fill="#3b372f"/><ellipse cx="383" cy="907.8" rx="7.5" ry="12.2" fill="#c9c4b6"/><circle cx="383" cy="907.8" r="3.2" fill="#3b372f"/><path d="M316 877H376V899H317Q314 899 314 896V879Q314 877 316 877Z" fill="url(#brk)"/><ellipse cx="376" cy="887.5" rx="7.5" ry="11.5" fill="#c9c4b6"/><circle cx="376" cy="887.5" r="3.2" fill="#3b372f"/><circle cx="338.6" cy="938.2" r="1.0" fill="#dcd8cc"/><circle cx="339.1" cy="931.5" r="1.0" fill="#dcd8cc"/><circle cx="378.4" cy="932.1" r="0.6" fill="#6f6b60"/><circle cx="392.0" cy="937.7" r="0.7" fill="#8a867a"/><circle cx="364.0" cy="877.8" r="0.7" fill="#6f6b60"/><circle cx="349.0" cy="878.4" r="0.7" fill="#8a867a"/><circle cx="374.8" cy="937.9" r="0.9" fill="#e8e4d8"/><circle cx="304.3" cy="918.7" r="0.7" fill="#dcd8cc"/><circle cx="360.7" cy="929.4" r="0.6" fill="#e8e4d8"/><circle cx="324.8" cy="910.8" r="0.8" fill="#e8e4d8"/><circle cx="328.3" cy="896.9" r="0.9" fill="#e8e4d8"/><circle cx="306.7" cy="939.3" r="1.1" fill="#dcd8cc"/><circle cx="309.0" cy="915.4" r="1.1" fill="#8a867a"/><circle cx="328.9" cy="903.4" r="0.7" fill="#6f6b60"/><circle cx="370.9" cy="925.1" r="0.7" fill="#8a867a"/><circle cx="358.9" cy="914.1" r="0.9" fill="#6f6b60"/><circle cx="353.1" cy="900.8" r="1.0" fill="#dcd8cc"/><circle cx="359.2" cy="907.5" r="0.8" fill="#6f6b60"/><circle cx="332.7" cy="889.3" r="0.9" fill="#8a867a"/><circle cx="353.9" cy="908.9" r="0.7" fill="#6f6b60"/><circle cx="329.1" cy="927.2" r="0.7" fill="#e8e4d8"/><circle cx="358.6" cy="899.6" r="0.9" fill="#8a867a"/><circle cx="380.3" cy="900.0" r="1.0" fill="#6f6b60"/><circle cx="395.0" cy="921.0" r="1.1" fill="#8a867a"/><circle cx="333.0" cy="899.9" r="0.9" fill="#dcd8cc"/><circle cx="379.0" cy="910.7" r="1.0" fill="#8a867a"/><circle cx="326.5" cy="918.0" r="0.9" fill="#6f6b60"/><circle cx="340.2" cy="883.7" r="0.8" fill="#e8e4d8"/><circle cx="348.3" cy="939.6" r="0.9" fill="#8a867a"/><circle cx="381.7" cy="895.2" r="0.9" fill="#e8e4d8"/><circle cx="337.1" cy="906.4" r="0.8" fill="#dcd8cc"/><circle cx="328.8" cy="902.4" r="0.9" fill="#8a867a"/><circle cx="362.6" cy="877.4" r="1.0" fill="#8a867a"/><circle cx="337.2" cy="896.5" r="0.9" fill="#6f6b60"/><circle cx="342.4" cy="901.5" r="0.7" fill="#dcd8cc"/><circle cx="331.8" cy="931.8" r="1.0" fill="#dcd8cc"/><circle cx="320.4" cy="904.7" r="1.1" fill="#e8e4d8"/><circle cx="386.1" cy="896.5" r="0.9" fill="#dcd8cc"/><circle cx="352.2" cy="941.9" r="0.9" fill="#8a867a"/><circle cx="338.0" cy="900.3" r="0.9" fill="#dcd8cc"/><circle cx="344.0" cy="877.7" r="0.6" fill="#6f6b60"/><circle cx="310.4" cy="901.3" r="0.8" fill="#6f6b60"/><circle cx="384.6" cy="939.7" r="0.8" fill="#8a867a"/><circle cx="373.9" cy="935.4" r="0.9" fill="#e8e4d8"/><circle cx="317.2" cy="897.7" r="1.1" fill="#dcd8cc"/><circle cx="349.7" cy="884.2" r="1.0" fill="#dcd8cc"/><circle cx="379.0" cy="941.4" r="1.0" fill="#8a867a"/><circle cx="361.0" cy="911.1" r="1.0" fill="#6f6b60"/><circle cx="349.0" cy="889.2" r="0.7" fill="#e8e4d8"/><circle cx="334.6" cy="941.6" r="0.9" fill="#e8e4d8"/><circle cx="366.7" cy="877.7" r="0.6" fill="#e8e4d8"/><circle cx="388.1" cy="902.8" r="0.6" fill="#e8e4d8"/><circle cx="364.5" cy="889.8" r="0.8" fill="#dcd8cc"/><circle cx="383.8" cy="935.2" r="0.9" fill="#6f6b60"/><circle cx="355.6" cy="903.7" r="0.7" fill="#6f6b60"/><circle cx="350.3" cy="910.1" r="0.6" fill="#e8e4d8"/><circle cx="317.2" cy="911.0" r="1.0" fill="#8a867a"/><circle cx="377.6" cy="881.0" r="0.6" fill="#dcd8cc"/><circle cx="314.7" cy="892.5" r="0.7" fill="#e8e4d8"/><circle cx="326.3" cy="883.5" r="1.1" fill="#e8e4d8"/><circle cx="334.1" cy="906.2" r="0.8" fill="#e8e4d8"/><circle cx="321.9" cy="902.7" r="1.0" fill="#e8e4d8"/><circle cx="342.8" cy="917.3" r="0.7" fill="#e8e4d8"/><circle cx="316.1" cy="915.2" r="0.7" fill="#e8e4d8"/><circle cx="386.4" cy="930.0" r="0.8" fill="#dcd8cc"/><circle cx="338.0" cy="923.7" r="0.7" fill="#dcd8cc"/><circle cx="338.9" cy="923.3" r="0.6" fill="#6f6b60"/><circle cx="337.0" cy="877.5" r="1.0" fill="#8a867a"/><circle cx="354.3" cy="884.5" r="0.9" fill="#8a867a"/><circle cx="332.9" cy="919.3" r="1.1" fill="#8a867a"/><circle cx="379.5" cy="899.8" r="0.7" fill="#6f6b60"/><circle cx="345.4" cy="899.4" r="0.8" fill="#dcd8cc"/><circle cx="364.1" cy="899.2" r="0.7" fill="#6f6b60"/><circle cx="380.3" cy="885.3" r="0.8" fill="#6f6b60"/><circle cx="316.1" cy="899.9" r="1.0" fill="#8a867a"/><circle cx="360.8" cy="914.7" r="0.7" fill="#8a867a"/><circle cx="349.0" cy="891.8" r="0.8" fill="#6f6b60"/><circle cx="390.5" cy="941.9" r="0.9" fill="#8a867a"/><circle cx="356.8" cy="900.9" r="0.7" fill="#6f6b60"/><circle cx="312.9" cy="925.8" r="0.9" fill="#e8e4d8"/><circle cx="352.5" cy="894.6" r="1.0" fill="#8a867a"/><circle cx="303.7" cy="923.7" r="0.7" fill="#e8e4d8"/><circle cx="338.0" cy="882.6" r="0.7" fill="#6f6b60"/><circle cx="331.5" cy="920.1" r="0.7" fill="#dcd8cc"/><circle cx="377.5" cy="926.3" r="0.7" fill="#dcd8cc"/><circle cx="309.4" cy="895.8" r="1.0" fill="#8a867a"/><circle cx="327.8" cy="903.2" r="1.1" fill="#6f6b60"/><circle cx="335.8" cy="929.0" r="0.9" fill="#8a867a"/><circle cx="303.4" cy="922.7" r="0.8" fill="#8a867a"/><circle cx="334.5" cy="917.9" r="0.7" fill="#e8e4d8"/><circle cx="326.7" cy="916.6" r="0.7" fill="#e8e4d8"/><circle cx="339.4" cy="916.6" r="0.8" fill="#dcd8cc"/><circle cx="315.8" cy="925.0" r="0.9" fill="#6f6b60"/><circle cx="354.6" cy="891.8" r="0.8" fill="#dcd8cc"/><circle cx="388.9" cy="920.6" r="0.9" fill="#e8e4d8"/><circle cx="311.6" cy="926.6" r="0.9" fill="#e8e4d8"/><circle cx="384.1" cy="915.0" r="0.9" fill="#6f6b60"/><circle cx="365.7" cy="879.4" r="0.8" fill="#dcd8cc"/><circle cx="372.2" cy="882.6" r="0.9" fill="#8a867a"/><circle cx="395.8" cy="917.0" r="0.7" fill="#e8e4d8"/><circle cx="334.2" cy="938.7" r="0.8" fill="#dcd8cc"/><circle cx="366.7" cy="925.0" r="1.0" fill="#8a867a"/><circle cx="349.3" cy="921.0" r="0.7" fill="#6f6b60"/><circle cx="347.5" cy="889.3" r="1.1" fill="#dcd8cc"/><circle cx="317.6" cy="887.6" r="1.0" fill="#6f6b60"/><circle cx="352.7" cy="893.2" r="0.6" fill="#dcd8cc"/><circle cx="334.0" cy="883.0" r="0.9" fill="#6f6b60"/><circle cx="314.0" cy="923.0" r="0.9" fill="#6f6b60"/><circle cx="368.0" cy="877.4" r="0.9" fill="#6f6b60"/><circle cx="329.4" cy="934.5" r="0.7" fill="#6f6b60"/><circle cx="332.7" cy="930.0" r="0.9" fill="#6f6b60"/><circle cx="365.3" cy="887.1" r="1.1" fill="#8a867a"/><circle cx="380.0" cy="884.4" r="0.7" fill="#dcd8cc"/><circle cx="347.2" cy="879.8" r="1.0" fill="#dcd8cc"/><circle cx="319.7" cy="922.6" r="0.8" fill="#e8e4d8"/><circle cx="316.3" cy="905.9" r="0.9" fill="#dcd8cc"/><circle cx="317.0" cy="881.7" r="0.6" fill="#8a867a"/><circle cx="309.0" cy="923.6" r="1.1" fill="#dcd8cc"/><circle cx="311.3" cy="908.8" r="0.8" fill="#6f6b60"/><circle cx="375.5" cy="897.9" r="0.8" fill="#e8e4d8"/><circle cx="362.2" cy="917.8" r="1.1" fill="#dcd8cc"/><circle cx="363.0" cy="882.1" r="1.0" fill="#e8e4d8"/><circle cx="374.6" cy="931.6" r="0.7" fill="#6f6b60"/><circle cx="386.1" cy="921.3" r="0.7" fill="#dcd8cc"/><circle cx="371.5" cy="898.2" r="0.7" fill="#dcd8cc"/><circle cx="331.4" cy="901.0" r="0.9" fill="#dcd8cc"/><circle cx="380.6" cy="893.5" r="0.6" fill="#e8e4d8"/><circle cx="354.9" cy="917.8" r="1.0" fill="#8a867a"/><circle cx="387.0" cy="938.4" r="0.8" fill="#8a867a"/><circle cx="370.4" cy="941.7" r="0.9" fill="#e8e4d8"/><circle cx="314.5" cy="891.8" r="0.7" fill="#8a867a"/><circle cx="342.8" cy="889.4" r="1.0" fill="#e8e4d8"/><circle cx="304.0" cy="916.7" r="1.0" fill="#8a867a"/><circle cx="314.6" cy="881.7" r="0.6" fill="#8a867a"/><circle cx="301.8" cy="939.1" r="0.7" fill="#6f6b60"/><circle cx="337.0" cy="877.3" r="1.0" fill="#dcd8cc"/><circle cx="354.9" cy="907.5" r="0.9" fill="#8a867a"/><circle cx="341.7" cy="911.8" r="0.9" fill="#6f6b60"/><circle cx="393.6" cy="939.5" r="0.9" fill="#e8e4d8"/><circle cx="369.7" cy="898.6" r="0.9" fill="#8a867a"/><circle cx="362.5" cy="896.5" r="0.8" fill="#e8e4d8"/><circle cx="381.6" cy="891.5" r="1.0" fill="#e8e4d8"/><circle cx="315.0" cy="914.6" r="0.9" fill="#8a867a"/><circle cx="335.2" cy="892.6" r="0.8" fill="#dcd8cc"/><circle cx="385.5" cy="912.6" r="0.7" fill="#dcd8cc"/><circle cx="362.7" cy="889.2" r="0.9" fill="#8a867a"/><circle cx="322.6" cy="906.8" r="0.9" fill="#e8e4d8"/><circle cx="370.9" cy="936.1" r="0.9" fill="#8a867a"/><circle cx="365.6" cy="929.0" r="0.7" fill="#e8e4d8"/><circle cx="360.5" cy="939.4" r="0.9" fill="#8a867a"/><circle cx="379.9" cy="902.5" r="0.7" fill="#6f6b60"/><circle cx="354.5" cy="927.4" r="0.7" fill="#e8e4d8"/><circle cx="339.4" cy="880.1" r="0.6" fill="#6f6b60"/><circle cx="344.7" cy="884.8" r="0.7" fill="#e8e4d8"/><circle cx="360.0" cy="933.7" r="0.9" fill="#dcd8cc"/><circle cx="317.0" cy="925.5" r="0.8" fill="#e8e4d8"/><circle cx="379.4" cy="885.0" r="0.8" fill="#dcd8cc"/><circle cx="369.6" cy="879.8" r="0.9" fill="#e8e4d8"/><circle cx="334.8" cy="898.3" r="0.9" fill="#e8e4d8"/><circle cx="388.9" cy="920.9" r="0.7" fill="#6f6b60"/><circle cx="366.9" cy="878.4" r="1.1" fill="#8a867a"/><circle cx="311.5" cy="929.0" r="0.7" fill="#dcd8cc"/><circle cx="384.0" cy="920.5" r="1.0" fill="#dcd8cc"/><circle cx="352.2" cy="921.8" r="1.0" fill="#8a867a"/><circle cx="315.3" cy="909.6" r="1.0" fill="#e8e4d8"/><circle cx="308.1" cy="917.3" r="0.9" fill="#8a867a"/><circle cx="381.1" cy="939.9" r="0.9" fill="#8a867a"/><circle cx="338.4" cy="933.7" r="0.9" fill="#e8e4d8"/><circle cx="335.3" cy="911.3" r="0.8" fill="#6f6b60"/><circle cx="357.0" cy="879.8" r="0.7" fill="#dcd8cc"/><circle cx="370.1" cy="898.5" r="0.8" fill="#dcd8cc"/><circle cx="330.9" cy="898.8" r="0.8" fill="#6f6b60"/><circle cx="314.9" cy="920.6" r="0.7" fill="#dcd8cc"/><circle cx="307.0" cy="941.4" r="0.8" fill="#6f6b60"/><circle cx="354.3" cy="927.1" r="1.0" fill="#8a867a"/><circle cx="361.1" cy="918.3" r="0.8" fill="#dcd8cc"/><circle cx="376.3" cy="892.5" r="1.0" fill="#6f6b60"/><circle cx="365.7" cy="896.8" r="1.0" fill="#dcd8cc"/><circle cx="349.3" cy="918.3" r="0.8" fill="#8a867a"/><circle cx="332.8" cy="922.8" r="0.9" fill="#8a867a"/><circle cx="348.9" cy="935.1" r="1.0" fill="#dcd8cc"/><circle cx="315.3" cy="890.3" r="1.0" fill="#8a867a"/><circle cx="339.5" cy="902.7" r="1.0" fill="#6f6b60"/><circle cx="356.7" cy="886.3" r="1.0" fill="#dcd8cc"/><circle cx="370.0" cy="912.8" r="1.1" fill="#dcd8cc"/><circle cx="388.9" cy="915.0" r="0.8" fill="#dcd8cc"/><circle cx="374.6" cy="904.8" r="1.0" fill="#e8e4d8"/><circle cx="380.7" cy="897.8" r="0.7" fill="#dcd8cc"/><circle cx="352.9" cy="926.3" r="0.9" fill="#6f6b60"/><circle cx="367.9" cy="891.2" r="0.8" fill="#6f6b60"/><circle cx="348.7" cy="883.5" r="0.7" fill="#e8e4d8"/><circle cx="392.5" cy="916.1" r="0.6" fill="#dcd8cc"/><circle cx="369.3" cy="877.3" r="0.7" fill="#e8e4d8"/><circle cx="361.8" cy="937.0" r="0.7" fill="#dcd8cc"/><circle cx="347.2" cy="916.6" r="1.0" fill="#6f6b60"/><circle cx="305.3" cy="917.7" r="0.8" fill="#8a867a"/><circle cx="390.3" cy="933.8" r="0.6" fill="#dcd8cc"/><circle cx="354.6" cy="941.2" r="0.6" fill="#dcd8cc"/><circle cx="315.9" cy="878.2" r="0.7" fill="#e8e4d8"/><circle cx="335.0" cy="900.5" r="0.8" fill="#6f6b60"/><circle cx="363.4" cy="916.1" r="0.8" fill="#dcd8cc"/><circle cx="378.3" cy="908.0" r="0.6" fill="#dcd8cc"/><circle cx="362.9" cy="912.7" r="1.0" fill="#dcd8cc"/><circle cx="335.3" cy="911.4" r="0.7" fill="#dcd8cc"/><circle cx="363.3" cy="927.3" r="0.8" fill="#6f6b60"/><circle cx="339.1" cy="940.6" r="1.1" fill="#6f6b60"/><circle cx="312.6" cy="912.3" r="0.7" fill="#6f6b60"/><circle cx="325.6" cy="916.4" r="1.0" fill="#6f6b60"/><circle cx="383.7" cy="932.6" r="1.0" fill="#e8e4d8"/><circle cx="334.3" cy="923.1" r="0.8" fill="#8a867a"/><circle cx="321.2" cy="936.3" r="1.1" fill="#8a867a"/><circle cx="344.7" cy="898.0" r="1.1" fill="#e8e4d8"/><circle cx="363.7" cy="878.0" r="1.0" fill="#8a867a"/><circle cx="365.1" cy="899.8" r="0.7" fill="#8a867a"/><circle cx="339.9" cy="936.7" r="1.1" fill="#6f6b60"/><circle cx="368.4" cy="892.7" r="0.8" fill="#dcd8cc"/><circle cx="373.1" cy="918.8" r="0.7" fill="#8a867a"/><circle cx="321.6" cy="914.0" r="0.7" fill="#dcd8cc"/><circle cx="329.5" cy="882.7" r="0.6" fill="#6f6b60"/><circle cx="316.4" cy="921.4" r="0.9" fill="#8a867a"/><circle cx="321.1" cy="880.4" r="1.0" fill="#dcd8cc"/><circle cx="305.4" cy="927.3" r="0.8" fill="#8a867a"/><circle cx="383.1" cy="941.7" r="0.7" fill="#e8e4d8"/><circle cx="377.5" cy="886.9" r="1.1" fill="#6f6b60"/><circle cx="370.9" cy="883.3" r="0.7" fill="#8a867a"/><circle cx="309.6" cy="899.1" r="1.1" fill="#8a867a"/><circle cx="384.8" cy="940.7" r="0.6" fill="#6f6b60"/><circle cx="320.1" cy="917.8" r="0.6" fill="#6f6b60"/><circle cx="349.0" cy="892.1" r="0.8" fill="#e8e4d8"/>
<rect x="539" y="392" width="8" height="413.5" fill="#3f3c3d"/><rect x="539" y="392" width="337" height="8.5" fill="#3f3c3d"/><rect x="868" y="392" width="8" height="413.5" fill="#3f3c3d"/><rect x="539" y="797.5" width="337" height="8.0" fill="#3f3c3d"/><rect x="539" y="539" width="337" height="8.5" fill="#3f3c3d"/><rect x="539" y="672.5" width="337" height="8.5" fill="#3f3c3d"/><rect x="610" y="415" width="399" height="9" fill="#3f3c3d"/><rect x="1000" y="415" width="9" height="412" fill="#3f3c3d"/><rect x="876" y="765" width="65" height="8" fill="#3f3c3d"/><rect x="932" y="765" width="9" height="57" fill="#3f3c3d"/><rect x="557" y="448.5" width="9" height="127.0" fill="#3f3c3d"/><rect x="557" y="567" width="291" height="8.5" fill="#3f3c3d"/><rect x="573" y="448.5" width="9" height="113.5" fill="#3f3c3d"/><rect x="573" y="553" width="275" height="9" fill="#3f3c3d"/><g fill="#1f72cf"><path d="M618.6 424.5H622.8V432.0H626.0L620.7 438.5L615.5 432.0H618.6Z"/><path d="M636.3 424.5H640.5V432.0H643.6L638.4 438.5L633.1 432.0H636.3Z"/><path d="M653.1 424.5H657.3V432.0H660.5L655.2 438.5L650.0 432.0H653.1Z"/><path d="M668.4 424.5H672.6V432.0H675.8L670.5 438.5L665.2 432.0H668.4Z"/><path d="M686.1 424.5H690.3V432.0H693.5L688.2 438.5L683.0 432.0H686.1Z"/><path d="M702.9 424.5H707.1V432.0H710.2L705.0 438.5L699.8 432.0H702.9Z"/><path d="M717.7 424.5H721.9V432.0H725.0L719.8 438.5L714.5 432.0H717.7Z"/><path d="M735.3 424.5H739.5V432.0H742.6L737.4 438.5L732.1 432.0H735.3Z"/><path d="M752.9 424.5H757.1V432.0H760.2L755.0 438.5L749.8 432.0H752.9Z"/><path d="M767.7 424.5H771.9V432.0H775.0L769.8 438.5L764.5 432.0H767.7Z"/><path d="M785.1 424.5H789.3V432.0H792.5L787.2 438.5L782.0 432.0H785.1Z"/><path d="M802.7 424.5H806.9V432.0H810.0L804.8 438.5L799.5 432.0H802.7Z"/><path d="M819.6 424.5H823.8V432.0H827.0L821.7 438.5L816.5 432.0H819.6Z"/><path d="M837.7 424.5H841.9V432.0H845.0L839.8 438.5L834.5 432.0H837.7Z"/><path d="M855.4 424.5H859.6V432.0H862.8L857.5 438.5L852.2 432.0H855.4Z"/><path d="M587.9 560.5H592.1V567.0H595.2L590.0 573.5L584.8 567.0H587.9Z"/><path d="M605.2 560.5H609.4V567.0H612.5L607.3 573.5L602.0 567.0H605.2Z"/><path d="M622.2 560.5H626.4V567.0H629.5L624.3 573.5L619.0 567.0H622.2Z"/><path d="M637.9 560.5H642.1V567.0H645.2L640.0 573.5L634.8 567.0H637.9Z"/><path d="M655.2 560.5H659.4V567.0H662.5L657.3 573.5L652.0 567.0H655.2Z"/><path d="M671.9 560.5H676.1V567.0H679.2L674.0 573.5L668.8 567.0H671.9Z"/><path d="M687.2 560.5H691.4V567.0H694.5L689.3 573.5L684.0 567.0H687.2Z"/><path d="M704.6 560.5H708.8V567.0H712.0L706.7 573.5L701.5 567.0H704.6Z"/><path d="M721.9 560.5H726.1V567.0H729.2L724.0 573.5L718.8 567.0H721.9Z"/><path d="M737.9 560.5H742.1V567.0H745.2L740.0 573.5L734.8 567.0H737.9Z"/><path d="M754.6 560.5H758.8V567.0H762.0L756.7 573.5L751.5 567.0H754.6Z"/><path d="M771.9 560.5H776.1V567.0H779.2L774.0 573.5L768.8 567.0H771.9Z"/><path d="M788.9 560.5H793.1V567.0H796.2L791.0 573.5L785.8 567.0H788.9Z"/><path d="M806.2 560.5H810.4V567.0H813.5L808.3 573.5L803.0 567.0H806.2Z"/><path d="M823.9 560.5H828.1V567.0H831.2L826.0 573.5L820.8 567.0H823.9Z"/><path d="M558.6 580.0H562.8V587.5H566.0L560.7 594.0L555.5 587.5H558.6Z"/><path d="M576.2 580.0H580.4V587.5H583.5L578.3 594.0L573.0 587.5H576.2Z"/><path d="M592.9 580.0H597.1V587.5H600.2L595.0 594.0L589.8 587.5H592.9Z"/><path d="M607.9 580.0H612.1V587.5H615.2L610.0 594.0L604.8 587.5H607.9Z"/><path d="M625.2 580.0H629.4V587.5H632.5L627.3 594.0L622.0 587.5H625.2Z"/><path d="M642.9 580.0H647.1V587.5H650.2L645.0 594.0L639.8 587.5H642.9Z"/><path d="M657.9 580.0H662.1V587.5H665.2L660.0 594.0L654.8 587.5H657.9Z"/><path d="M674.6 580.0H678.8V587.5H682.0L676.7 594.0L671.5 587.5H674.6Z"/><path d="M691.9 580.0H696.1V587.5H699.2L694.0 594.0L688.8 587.5H691.9Z"/><path d="M707.9 580.0H712.1V587.5H715.2L710.0 594.0L704.8 587.5H707.9Z"/><path d="M724.6 580.0H728.8V587.5H732.0L726.7 594.0L721.5 587.5H724.6Z"/><path d="M741.2 580.0H745.4V587.5H748.5L743.3 594.0L738.0 587.5H741.2Z"/><path d="M759.6 580.0H763.8V587.5H767.0L761.7 594.0L756.5 587.5H759.6Z"/><path d="M776.2 580.0H780.4V587.5H783.5L778.3 594.0L773.0 587.5H776.2Z"/><path d="M793.6 580.0H797.8V587.5H801.0L795.7 594.0L790.5 587.5H793.6Z"/><path d="M807.9 580.0H812.1V587.5H815.2L810.0 594.0L804.8 587.5H807.9Z"/><path d="M825.6 580.0H829.8V587.5H833.0L827.7 594.0L822.5 587.5H825.6Z"/><path d="M842.9 580.0H847.1V587.5H850.2L845.0 594.0L839.8 587.5H842.9Z"/><path d="M561.2 686.0H565.4V693.5H568.5L563.3 700.0L558.0 693.5H561.2Z"/><path d="M579.0 686.0H583.2V693.5H586.4L581.1 700.0L575.9 693.5H579.0Z"/><path d="M595.7 686.0H599.9V693.5H603.0L597.8 700.0L592.5 693.5H595.7Z"/><path d="M611.2 686.0H615.4V693.5H618.5L613.3 700.0L608.0 693.5H611.2Z"/><path d="M628.6 686.0H632.8V693.5H636.0L630.7 700.0L625.5 693.5H628.6Z"/><path d="M646.3 686.0H650.5V693.5H653.6L648.4 700.0L643.1 693.5H646.3Z"/><path d="M660.6 686.0H664.8V693.5H668.0L662.7 700.0L657.5 693.5H660.6Z"/><path d="M677.9 686.0H682.1V693.5H685.2L680.0 700.0L674.8 693.5H677.9Z"/><path d="M694.6 686.0H698.8V693.5H702.0L696.7 700.0L691.5 693.5H694.6Z"/><path d="M710.9 686.0H715.1V693.5H718.2L713.0 700.0L707.8 693.5H710.9Z"/><path d="M727.4 686.0H731.6V693.5H734.8L729.5 700.0L724.2 693.5H727.4Z"/><path d="M743.9 686.0H748.1V693.5H751.2L746.0 700.0L740.8 693.5H743.9Z"/><path d="M759.9 686.0H764.1V693.5H767.2L762.0 700.0L756.8 693.5H759.9Z"/><path d="M776.4 686.0H780.6V693.5H783.8L778.5 700.0L773.2 693.5H776.4Z"/><path d="M792.9 686.0H797.1V693.5H800.2L795.0 700.0L789.8 693.5H792.9Z"/><path d="M808.9 686.0H813.1V693.5H816.2L811.0 700.0L805.8 693.5H808.9Z"/><path d="M825.9 686.0H830.1V693.5H833.2L828.0 700.0L822.8 693.5H825.9Z"/><path d="M842.9 686.0H847.1V693.5H850.2L845.0 700.0L839.8 693.5H842.9Z"/></g><g fill="none" stroke="#1f72cf" stroke-width="4" stroke-linecap="butt" stroke-linejoin="miter"><path d="M572.7 604.0L572.7 632.0M582.3 620.5L572.7 632.0L563.1 620.5"/><path d="M572.7 638.0L572.7 667.0M582.3 655.5L572.7 667.0L563.1 655.5"/><path d="M572.7 711.0L572.7 740.0M582.3 728.5L572.7 740.0L563.1 728.5"/><path d="M631.7 604.0L631.7 632.0M641.3 620.5L631.7 632.0L622.1 620.5"/><path d="M631.7 638.0L631.7 667.0M641.3 655.5L631.7 667.0L622.1 655.5"/><path d="M631.7 711.0L631.7 740.0M641.3 728.5L631.7 740.0L622.1 728.5"/><path d="M701.7 604.0L701.7 632.0M711.3 620.5L701.7 632.0L692.1 620.5"/><path d="M701.7 638.0L701.7 667.0M711.3 655.5L701.7 667.0L692.1 655.5"/><path d="M701.7 711.0L701.7 740.0M711.3 728.5L701.7 740.0L692.1 728.5"/><path d="M762.3 604.0L762.3 632.0M771.9 620.5L762.3 632.0L752.7 620.5"/><path d="M762.3 638.0L762.3 667.0M771.9 655.5L762.3 667.0L752.7 655.5"/><path d="M762.3 711.0L762.3 740.0M771.9 728.5L762.3 740.0L752.7 728.5"/><path d="M832.3 604.0L832.3 632.0M841.9 620.5L832.3 632.0L822.7 620.5"/><path d="M832.3 638.0L832.3 667.0M841.9 655.5L832.3 667.0L822.7 655.5"/><path d="M832.3 711.0L832.3 740.0M841.9 728.5L832.3 740.0L822.7 728.5"/><path d="M856.5 446.0L849.0 472.0M861.4 463.6L849.0 472.0L842.9 458.3"/><path d="M843.5 488.0L835.0 514.0M847.7 506.1L835.0 514.0L829.4 500.1"/><path d="M826.0 517.5L805.0 535.0M820.0 535.1L805.0 535.0L807.7 520.2"/><path d="M788.0 525.7L759.5 525.7M771.0 535.3L759.5 525.7L771.0 516.1"/><path d="M743.9 525.7L715.4 525.7M726.9 535.3L715.4 525.7L726.9 516.1"/><path d="M706.3 525.7L677.8 525.7M689.3 535.3L677.8 525.7L689.3 516.1"/><path d="M667.4 525.7L641.5 525.7M653.0 535.3L641.5 525.7L653.0 516.1"/><path d="M587.6 421.7L569.0 441.0M583.9 439.4L569.0 441.0L570.0 426.0"/><path d="M571.5 753.0L592.0 772.5M590.3 757.6L592.0 772.5L577.0 771.6"/><path d="M600.0 785.8L628.0 785.8M616.5 776.2L628.0 785.8L616.5 795.4"/><path d="M648.0 785.8L676.0 785.8M664.5 776.2L676.0 785.8L664.5 795.4"/><path d="M696.0 785.8L724.0 785.8M712.5 776.2L724.0 785.8L712.5 795.4"/><path d="M747.0 785.8L775.0 785.8M763.5 776.2L775.0 785.8L763.5 795.4"/><path d="M792.0 785.8L820.0 785.8M808.5 776.2L820.0 785.8L808.5 795.4"/><path d="M840.0 790.0L860.0 772.5M845.0 772.8L860.0 772.5L857.7 787.3"/></g><g fill="none" stroke="#1f72cf" stroke-width="2.8"><path d="M606.0 464.0L606.0 443.0M600.3 448.7L606.0 443.0L611.7 448.7"/><path d="M622.0 533.0L606.0 507.0M603.9 515.8L606.0 507.0L614.8 509.1"/></g><path d="M478 461L499.5 450.5V455.7H526V466.3H499.5V471.5Z" fill="#555455"/><path d="M478 619.5L499.5 609.0V614.2H526V624.8H499.5V630.0Z" fill="#555455"/><path d="M478 779.5L499.5 769.0V774.2H526V784.8H499.5V790.0Z" fill="#555455"/>

<path d="M850 845Q900 818 960 824Q1045 835 1080 895V1010H850Z" fill="#ffffff"/>
<path d="M1041 887L1064 896V908L1041 899Z" fill="#1c1c1c"/>
<path d="M911 869Q935 862 954 859L989 851L1030 860Q1040 866 1040 875L1044 957Q1042 966 1035 968L972 989L947 992Q915 988 903 984Q891 978 891 968L892 910Q898 882 911 869Z" fill="#151515"/>
<path d="M955.6 861.3L992.6 852.5L1019 864.9L975 873.7Z" fill="#e2e2e0"/>
<path d="M992.6 852.5L1028 860L1036 868L1019 865Z" fill="#222"/>
<path d="M952 878L1029.5 865.7L1040 875L1042 960L1035 968L972 989L966 880Z" fill="#121212"/>
<path d="M966 880L972 989" stroke="#2c2c2c" stroke-width="1.3" fill="none"/>
<path d="M1029 866L1034 965" stroke="#262626" stroke-width="1.2" fill="none"/>
<path d="M912 872Q940 866 952 878L966 880L950 935Q930 905 905 895Z" fill="#1f1f1f"/>
<ellipse cx="913.4" cy="941.3" rx="19.4" ry="35.3" fill="#0b0b0b" stroke="#262626" stroke-width="1.5"/>
<path d="M901 917H926M899 925H929M899 933H929M899 941H930M899 949H930M900 957H929M902 965H926" stroke="#2a2a2a" stroke-width="3.2"/>
<path d="M920.5 869Q920 867 925 867H953Q958 867 958 871Q958 876 950 876H928Q920 876 920.5 869Z" fill="#0f0f0f"/>
<rect x="925" y="833" width="27" height="37" fill="#161616"/>
<ellipse cx="938.5" cy="833.5" rx="13.5" ry="4.2" fill="#050505" stroke="#2a2a2a" stroke-width="1.2"/>
<rect x="942" y="838" width="3" height="30" fill="#2e2e2e" opacity="0.7"/>
<ellipse cx="967" cy="990.5" rx="18.5" ry="6.5" fill="#0c0c0c"/>
<ellipse cx="1020" cy="976.5" rx="17" ry="6.2" fill="#0c0c0c"/>


<g fill="rgb(210,100,100)" opacity="0.26">
<path d="M565 249C545 246 515 262 495 295C482 316 470 335 467 364C465 385 470 402 493 422C475 425 457 428 457 434C458 444 490 447 517 447C540 458 560 470 580 470C600 470 615 462 615 450C615 437 605 425 593 417C585 410 578 403 573 397C572 375 568 355 560 353C550 352 546 370 540 383C525 378 512 360 510 337C512 325 520 320 535 314C560 305 585 300 586 292C586 280 575 258 565 249Z"/>
<clipPath id="rc1"><path d="M380 380H575V462L621 470L700 481V560H380Z"/></clipPath><clipPath id="rc2"><path d="M380 380H575V448L639 458L720 468V580H380Z"/></clipPath>
<path clip-path="url(#rc1)" fill-rule="evenodd" d="M425.0 483A110.5 27 0 1 0 646.0 483A110.5 27 0 1 0 425.0 483ZM433.0 477A99.5 20 0 1 0 632.0 477A99.5 20 0 1 0 433.0 477Z"/>
<path clip-path="url(#rc2)" fill-rule="evenodd" d="M402.0 488A145.5 43 0 1 0 693.0 488A145.5 43 0 1 0 402.0 488ZM410.0 482A134.5 35 0 1 0 679.0 482A134.5 35 0 1 0 410.0 482Z"/>
</g>

</svg>
<div class="ab lab" style="left:264px;top:364px"><span class="n">01 </span>一段目<br>物理濾過</div>
<div class="ab lab" style="left:265px;top:580px"><span class="n">02 </span>二段目<br>生物濾過</div>
<div class="ab lab" style="left:271px;top:795.5px"><span class="n">03 </span>三段目<br>生物濾過</div>
<svg class="ab" style="left:0;top:0" width="1080" height="1080" viewBox="0 0 1080 1080">
<defs>
<filter id="wm" x="-5%" y="-5%" width="110%" height="110%" color-interpolation-filters="sRGB">
<feMorphology in="SourceAlpha" operator="dilate" radius="2.4" result="bold"/>
<feMorphology in="bold" operator="dilate" radius="1.2" result="bold2"/>
<feComposite in="bold2" in2="bold" operator="out" result="ring"/>
<feFlood flood-color="rgb(60,60,60)" flood-opacity="0.2" result="c1"/>
<feComposite in="c1" in2="bold" operator="in" result="f1"/>
<feFlood flood-color="rgb(150,150,150)" flood-opacity="0.45" result="c2"/>
<feComposite in="c2" in2="ring" operator="in" result="f2"/>
<feMerge><feMergeNode in="f1"/><feMergeNode in="f2"/></feMerge>
</filter>
<filter id="wm2" x="-5%" y="-5%" width="110%" height="110%" color-interpolation-filters="sRGB">
<feMorphology in="SourceAlpha" operator="dilate" radius="1" result="bold"/>
<feMorphology in="bold" operator="dilate" radius="1" result="bold2"/>
<feComposite in="bold2" in2="bold" operator="out" result="ring"/>
<feFlood flood-color="rgb(60,60,60)" flood-opacity="0.2" result="c1"/>
<feComposite in="c1" in2="bold" operator="in" result="f1"/>
<feFlood flood-color="rgb(150,150,150)" flood-opacity="0.45" result="c2"/>
<feComposite in="c2" in2="ring" operator="in" result="f2"/>
<feMerge><feMergeNode in="f1"/><feMergeNode in="f2"/></feMerge>
</filter>
</defs>
<text filter="url(#wm)" x="256" y="721" font-family="Liberation Serif, serif" font-size="132" font-weight="bold" textLength="612" lengthAdjust="spacingAndGlyphs">錦彩工房</text>
<text filter="url(#wm2)" x="258" y="810" font-family="Liberation Serif, serif" font-size="62" font-weight="bold" textLength="564" lengthAdjust="spacingAndGlyphs">KINSAI KOUBOU</text>
</svg>
</div></body></html>
